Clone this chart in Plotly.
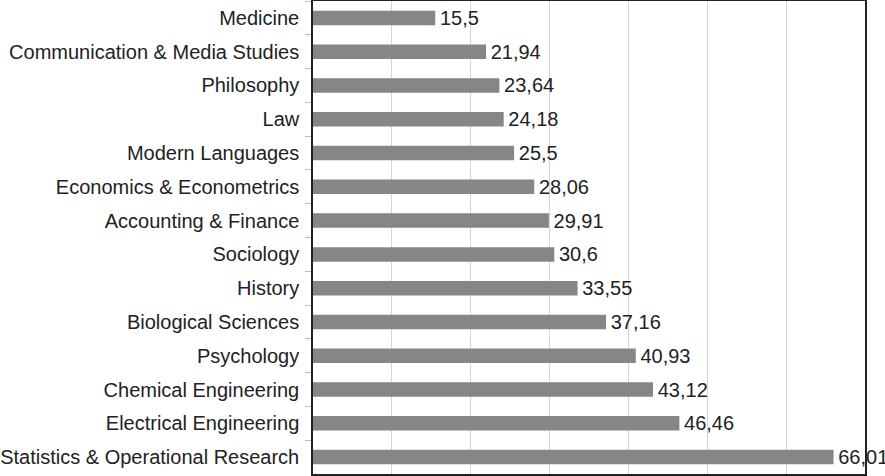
import plotly.graph_objects as go

categories = ["Medicine", "Communication & Media Studies", "Philosophy", "Law",
              "Modern Languages", "Economics & Econometrics", "Accounting & Finance",
              "Sociology", "History", "Biological Sciences", "Psychology",
              "Chemical Engineering", "Electrical Engineering",
              "Statistics & Operational Research"]
values = [15.5, 21.94, 23.64, 24.18, 25.5, 28.06, 29.91, 30.6, 33.55, 37.16,
          40.93, 43.12, 46.46, 66.01]
labels = ["15,5", "21,94", "23,64", "24,18", "25,5", "28,06", "29,91", "30,6",
          "33,55", "37,16", "40,93", "43,12", "46,46", "66,01"]

FONT = "Liberation Sans, Arial"

fig = go.Figure(go.Bar(
    x=values, y=categories, orientation="h",
    marker=dict(color="#868686", line=dict(width=0)),
    text=["\u200a" + s for s in labels], textposition="outside",
    cliponaxis=False, constraintext="none",
    textfont=dict(family=FONT, size=20, color="#222222"),
))

fig.update_layout(
    width=885, height=476,
    margin=dict(l=313, r=20, t=1, b=2, autoexpand=False),
    paper_bgcolor="white", plot_bgcolor="white",
    bargap=0.57, showlegend=False,
    font=dict(family=FONT, size=20, color="#222222"),
)
fig.update_xaxes(range=[0, 70], dtick=10, showticklabels=False,
                 showgrid=True, gridcolor="#d6d6d6", gridwidth=1,
                 zeroline=False, showline=True, linecolor="#222222",
                 linewidth=1.5, mirror=True, ticks="", automargin=False)
fig.update_yaxes(autorange="reversed", categoryorder="array",
                 categoryarray=categories, showline=True, linecolor="#222222",
                 linewidth=1.5, mirror=True, ticks="outside", ticklen=6,
                 tickcolor="#bbbbbb", tickson="boundaries", showgrid=False,
                 automargin=False, ticklabelstandoff=8,
                 tickfont=dict(family=FONT, size=20, color="#222222"))

fig.write_html("out.html", config={"displayModeBar": False},
               post_script="document.body.style.margin='0';"
                           "document.body.style.padding='0';")
